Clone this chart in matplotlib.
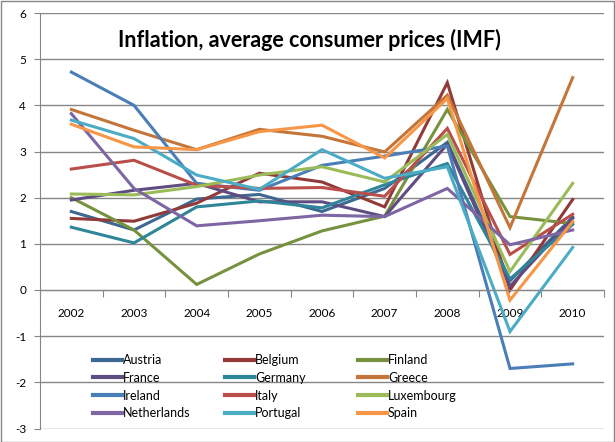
import matplotlib.pyplot as plt
from matplotlib.lines import Line2D
from matplotlib.patches import Rectangle

plt.rcParams['font.family'] = ['Lato', 'DejaVu Sans']
plt.rcParams['axes.unicode_minus'] = False

# data
years = ['2002', '2003', '2004', '2005', '2006', '2007', '2008', '2009', '2010']
countries = ['Austria', 'Belgium', 'Finland', 'France', 'Germany', 'Greece',
             'Ireland', 'Italy', 'Luxembourg', 'Netherlands', 'Portugal', 'Spain']

austria = [1.70, 1.30, 1.97, 2.07, 1.70, 2.20, 3.20, 0.20, 1.58]
belgium = [1.55, 1.49, 1.88, 2.53, 2.34, 1.80, 4.49, 0.00, 1.96]
finland = [2.00, 1.30, 0.12, 0.78, 1.28, 1.60, 3.91, 1.59, 1.44]
france = [1.95, 2.16, 2.31, 1.91, 1.91, 1.59, 3.16, 0.08, 1.55]
germany = [1.36, 1.02, 1.80, 1.93, 1.78, 2.28, 2.74, 0.24, 1.42]
greece = [3.91, 3.46, 3.04, 3.48, 3.33, 2.99, 4.22, 1.35, 4.60]
ireland = [4.72, 4.00, 2.31, 2.16, 2.70, 2.90, 3.12, -1.70, -1.60]
italy = [2.62, 2.81, 2.27, 2.20, 2.22, 2.03, 3.50, 0.77, 1.64]
luxembourg = [2.08, 2.06, 2.24, 2.49, 2.67, 2.34, 3.37, 0.40, 2.31]
netherlands = [3.82, 2.20, 1.39, 1.50, 1.62, 1.59, 2.20, 0.98, 1.30]
portugal = [3.68, 3.28, 2.49, 2.18, 3.04, 2.42, 2.67, -0.90, 0.92]
spain = [3.59, 3.10, 3.04, 3.43, 3.57, 2.86, 4.15, -0.22, 1.48]

series = [austria, belgium, finland, france, germany, greece,
          ireland, italy, luxembourg, netherlands, portugal, spain]
colors = ['#3d6891', '#923a38', '#77923e', '#5f4c80', '#2f8599', '#c4753a',
          '#4a7eb6', '#ba4e4b', '#9bbb59', '#7d66a3', '#4bacc6', '#f79646']

W, H = 615, 442
fig = plt.figure(figsize=(W / 100, H / 100), dpi=100)
ax = fig.add_axes([40 / W, 13.5 / H, 564 / W, 415.5 / H])

x = list(range(len(years)))
for vals, col, name in zip(series, colors, countries):
    ax.plot(x, vals, color=col, lw=2.2, label=name, solid_joinstyle='miter')

ax.set_xlim(-0.5, 8.5)
ax.set_ylim(-3, 6)
ax.set_yticks(range(-3, 7))
ax.yaxis.grid(True, color='#868686', lw=1.0)
ax.set_axisbelow(True)

for s in ['top', 'right']:
    ax.spines[s].set_visible(False)
ax.spines['left'].set_color('#868686')
ax.spines['bottom'].set_color('#868686')
ax.spines['bottom'].set_position(('data', 0))

ax.set_xticks([i - 0.5 for i in range(len(years) + 1)])
ax.set_xticklabels([])
ax.set_xticks(x, minor=True)
ax.set_xticklabels(years, minor=True)
ax.tick_params(axis='x', which='major', direction='out', length=5, color='#868686')
ax.tick_params(axis='x', which='minor', length=0, pad=13, labelsize=8.5)
ax.tick_params(axis='y', direction='out', length=4, color='#868686', labelsize=8.5, pad=6)

fig.text(309 / W, 1 - 40 / H, 'Inflation, average consumer prices (IMF)',
         ha='center', va='center', fontsize=15.5, fontweight='bold')

# legend: three equal columns, row-major like Excel
col_x = [93, 225, 358]
for c in range(3):
    idx = [c + 3 * r for r in range(4)]
    handles = [Line2D([], [], color=colors[i], lw=3) for i in idx]
    leg = fig.legend(handles, [countries[i] for i in idx], loc='upper left',
                     bbox_to_anchor=(col_x[c] / W, 1 - 354 / H),
                     frameon=False, fontsize=9, borderpad=0, borderaxespad=0,
                     handlelength=2.3, handletextpad=0.1, labelspacing=0.46)

fig.patches.append(Rectangle((0.5 / W, 0.5 / H), 1 - 1.5 / W, 1 - 1.5 / H,
                             transform=fig.transFigure, fill=False,
                             edgecolor='#868686', lw=1))

fig.savefig('out.png', dpi=100)
